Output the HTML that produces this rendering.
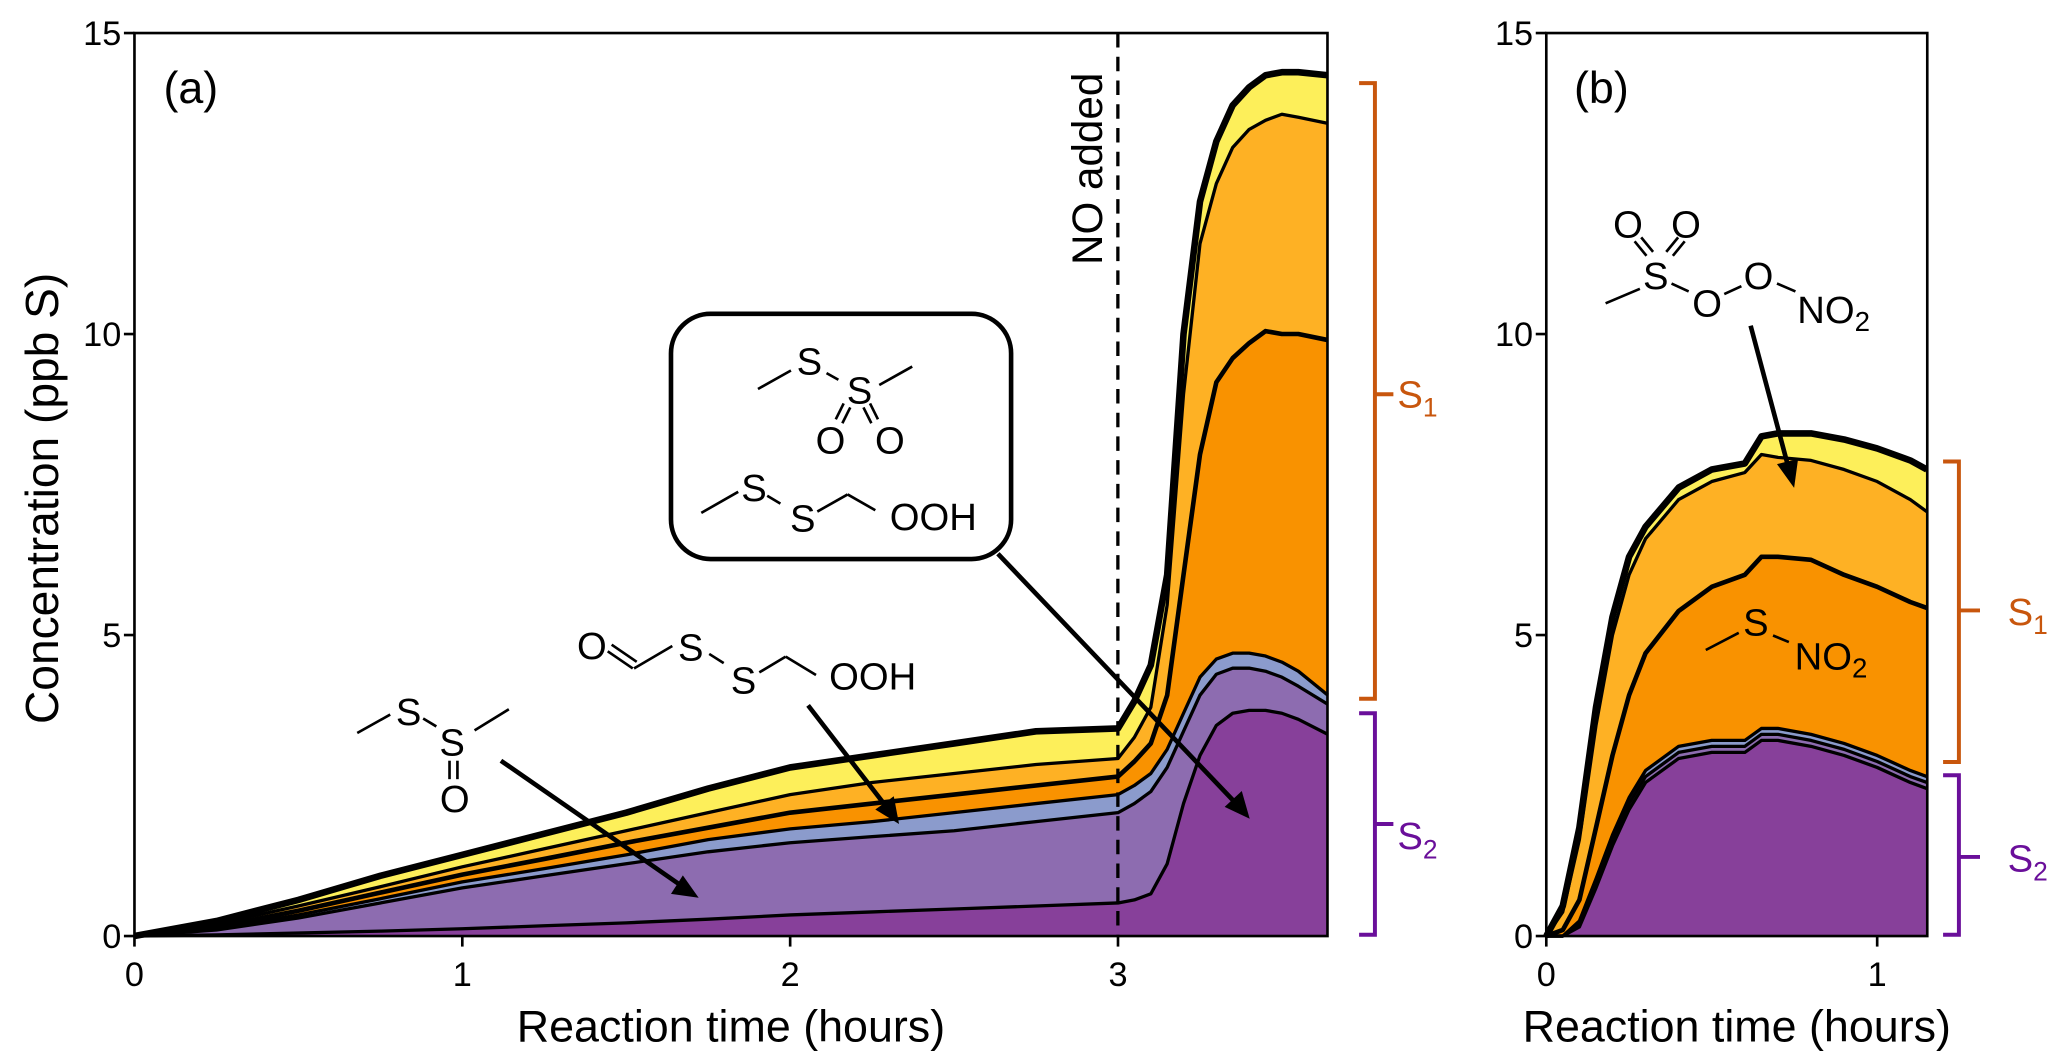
<!DOCTYPE html>
<html><head><meta charset="utf-8"><style>
html,body{margin:0;padding:0;background:#fff;}
svg{display:block;font-family:"Liberation Sans",sans-serif;}
</style></head><body>
<svg id="fig" width="2067" height="1064" viewBox="0 0 1568 807">
<g id="pa"></g>
<g id="pb"></g>
<g id="annot" font-size="29" fill="#000" text-anchor="middle">
  <line x1="848" y1="25" x2="848" y2="710" stroke="#000" stroke-width="2.5" stroke-dasharray="11,7"/>
  <text transform="translate(836,128) rotate(-90)" font-size="32">NO added</text>
  <rect x="509" y="238" width="258" height="186" rx="30" fill="#fff" stroke="#000" stroke-width="3.5"/>
  <g stroke="#000" stroke-width="2">
    <line x1="575" y1="295" x2="600" y2="281"/><line x1="627" y1="283" x2="636" y2="288"/><line x1="667" y1="292" x2="692" y2="278"/>
    <line x1="640" y1="306" x2="634" y2="318"/><line x1="645" y1="309" x2="639" y2="321"/>
    <line x1="660" y1="306" x2="666" y2="318"/><line x1="655" y1="309" x2="661" y2="321"/>
    <text x="614" y="284" stroke="none">S</text><text x="652" y="306" stroke="none">S</text>
    <text x="630" y="344" stroke="none">O</text><text x="675" y="344" stroke="none">O</text>
  </g>
  <g stroke="#000" stroke-width="2">
    <line x1="532" y1="389" x2="560" y2="373"/><line x1="582" y1="376" x2="592" y2="382"/><line x1="620" y1="388" x2="643" y2="375"/><line x1="643" y1="375" x2="664" y2="387"/>
    <text x="572" y="380" stroke="none">S</text><text x="609" y="403" stroke="none">S</text><text x="708" y="402" stroke="none">OOH</text>
  </g>
  <g stroke="#000" stroke-width="2">
    <line x1="461" y1="494" x2="480" y2="507"/><line x1="464" y1="489" x2="483" y2="502"/><line x1="481" y1="507" x2="510" y2="490"/>
    <line x1="538" y1="496" x2="549" y2="503"/><line x1="576" y1="510" x2="596" y2="498"/><line x1="596" y1="498" x2="619" y2="512"/>
    <text x="449" y="500" stroke="none">O</text><text x="524" y="501" stroke="none">S</text><text x="564" y="526" stroke="none">S</text><text x="662" y="523" stroke="none">OOH</text>
  </g>
  <g stroke="#000" stroke-width="2">
    <line x1="271" y1="556" x2="296" y2="542"/><line x1="321" y1="545" x2="331" y2="551"/><line x1="360" y1="554" x2="386" y2="538"/>
    <line x1="341" y1="577" x2="341" y2="591"/><line x1="347" y1="577" x2="347" y2="591"/>
    <text x="310" y="550" stroke="none">S</text><text x="343" y="573" stroke="none">S</text><text x="345" y="616" stroke="none">O</text>
  </g>
  <g stroke="#000" stroke-width="3.5" fill="none">
    <line x1="380" y1="577" x2="520" y2="674"/><line x1="613" y1="535" x2="677" y2="618"/><line x1="757" y1="420" x2="942" y2="614"/>
  </g>
  <g fill="#000">
    <polygon points="530,681 509,678 518,664"/><polygon points="682,625 664,614 678,604"/><polygon points="948,621 929,612 942,600"/>
  </g>
  <g stroke="#000" stroke-width="2">
    <text x="1235" y="180" stroke="none">O</text><text x="1279" y="180" stroke="none">O</text>
    <line x1="1240" y1="183" x2="1249" y2="194"/><line x1="1245" y1="180" x2="1254" y2="191"/>
    <line x1="1273" y1="180" x2="1264" y2="191"/><line x1="1278" y1="183" x2="1269" y2="194"/>
    <text x="1256" y="219" stroke="none">S</text>
    <line x1="1218" y1="230" x2="1244" y2="219"/><line x1="1268" y1="215" x2="1281" y2="221"/>
    <text x="1295" y="240" stroke="none">O</text><line x1="1308" y1="223" x2="1321" y2="217"/>
    <text x="1334" y="219" stroke="none">O</text><line x1="1348" y1="215" x2="1362" y2="221"/>
    <text x="1391" y="245" stroke="none">NO<tspan font-size="21" dy="6">2</tspan></text>
  </g>
  <line x1="1328" y1="247" x2="1356" y2="352" stroke="#000" stroke-width="3.5"/>
  <polygon points="1361,370 1348,352 1364,348" fill="#000"/>
  <g stroke="#000" stroke-width="2">
    <line x1="1294" y1="493" x2="1319" y2="480"/><line x1="1345" y1="482" x2="1357" y2="487"/>
    <text x="1332" y="482" stroke="none">S</text>
    <text x="1389" y="508" stroke="none">NO<tspan font-size="21" dy="6">2</tspan></text>
  </g>
  <g fill="none" stroke-width="3">
    <path d="M1031,63 H1043 V530 H1031 M1043,299 H1057" stroke="#c8560d"/>
    <path d="M1031,541 H1043 V709 H1031 M1043,625 H1057" stroke="#6a0f9a"/>
    <path d="M1474,350 H1486 V578 H1474 M1486,463 H1502" stroke="#c8560d"/>
    <path d="M1474,588 H1486 V709 H1474 M1486,650 H1502" stroke="#6a0f9a"/>
  </g>
  <g text-anchor="start" font-size="29">
  <text x="1060" y="309" fill="#c8560d">S<tspan font-size="20" dy="7">1</tspan></text>
  <text x="1060" y="644" fill="#6a0f9a">S<tspan font-size="20" dy="7">2</tspan></text>
  <text x="1523" y="474" fill="#c8560d">S<tspan font-size="20" dy="7">1</tspan></text>
  <text x="1523" y="661" fill="#6a0f9a">S<tspan font-size="20" dy="7">2</tspan></text>
  </g>
</g>
</svg>
<script>
// Panel (a) data
const timesA = [0,0.25,0.5,0.75,1,1.25,1.5,1.75,2,2.25,2.5,2.75,3.0,3.05,3.1,3.15,3.2,3.25,3.3,3.35,3.4,3.45,3.5,3.55,3.64];
const aTop1 = [0,0.02,0.05,0.08,0.12,0.17,0.22,0.28,0.35,0.4,0.45,0.5,0.55,0.6,0.7,1.2,2.2,3.0,3.5,3.7,3.75,3.75,3.7,3.6,3.35];
const aTop2 = [0,0.1,0.3,0.55,0.8,1.0,1.2,1.4,1.55,1.65,1.75,1.9,2.05,2.2,2.4,2.8,3.4,4.0,4.35,4.45,4.45,4.4,4.3,4.15,3.85];
const aTop3 = [0,0.12,0.35,0.62,0.9,1.12,1.35,1.6,1.78,1.9,2.05,2.2,2.35,2.5,2.7,3.1,3.7,4.3,4.6,4.7,4.7,4.65,4.55,4.4,4.0];
const aTop4 = [0,0.15,0.42,0.72,1.02,1.28,1.55,1.8,2.05,2.2,2.35,2.5,2.65,2.9,3.2,4.0,6.0,8.0,9.2,9.6,9.85,10.05,10.0,10.0,9.9];
const aTop5 = [0,0.2,0.5,0.82,1.15,1.45,1.75,2.05,2.35,2.55,2.7,2.85,2.95,3.3,3.8,5.5,9.0,11.5,12.5,13.1,13.4,13.55,13.65,13.6,13.5];
const aTop6 = [0,0.25,0.6,1.0,1.35,1.7,2.05,2.45,2.8,3.0,3.2,3.4,3.45,3.9,4.5,6.0,10.0,12.2,13.2,13.8,14.1,14.3,14.35,14.35,14.3];
// Panel (b) data
const timesB = [0,0.05,0.1,0.15,0.2,0.25,0.3,0.4,0.5,0.6,0.65,0.7,0.8,0.9,1.0,1.1,1.15];
const bTop1 = [0,0,0.15,0.8,1.5,2.1,2.55,2.95,3.05,3.05,3.25,3.25,3.15,3.0,2.8,2.55,2.45];
const bTop2 = [0,0,0.2,0.88,1.6,2.2,2.65,3.05,3.15,3.15,3.35,3.35,3.25,3.1,2.9,2.65,2.55];
const bTop3 = [0,0,0.25,0.95,1.68,2.3,2.75,3.15,3.25,3.25,3.45,3.45,3.35,3.2,3.0,2.75,2.65];
const bTop4 = [0,0.1,0.6,1.8,3.0,4.0,4.7,5.4,5.8,6.0,6.3,6.3,6.25,6.0,5.8,5.55,5.45];
const bTop5 = [0,0.4,1.6,3.5,5.0,6.0,6.6,7.25,7.55,7.7,8.0,7.95,7.9,7.75,7.55,7.25,7.05];
const bTop6 = [0,0.5,1.8,3.8,5.3,6.3,6.8,7.45,7.75,7.85,8.3,8.35,8.35,8.25,8.1,7.9,7.75];
const colors = ['#87409a','#8d6cb0','#8b9bcc','#f99200','#feb124','#fdef5a'];
const yTicks = [0,5,10,15];
const xTicksA = [0,1,2,3];
const xTicksB = [0,1];

const NS='http://www.w3.org/2000/svg';
function mk(tag,attrs,parent){const e=document.createElementNS(NS,tag);for(const k in attrs)e.setAttribute(k,attrs[k]);parent.appendChild(e);return e;}

function panel(g,times,tops,x0,xPerH,xEnd,xTicks,label,labelX,drawYTitle,names){
  const yS=v=>710-v*(685/15);
  const xS=t=>x0+t*xPerH;
  for(let i=tops.length-1;i>=0;i--){
    const top=tops[i];
    let d='M'+times.map((t,j)=>xS(t).toFixed(1)+','+yS(top[j]).toFixed(1)).join(' L');
    d+=' L'+xS(times[times.length-1]).toFixed(1)+','+yS(0)+' L'+xS(0)+','+yS(0)+' Z';
    const p=mk('path',{d:d,fill:colors[i],stroke:'none'},g);
    
    
  }
  for(let i=0;i<tops.length;i++){
    const top=tops[i];
    const d='M'+times.map((t,j)=>xS(t).toFixed(1)+','+yS(top[j]).toFixed(1)).join(' L');
    const l=mk('path',{d:d,fill:'none',stroke:'#000','stroke-width':(i===5?5:(i===3?3.5:2.5)),'stroke-linejoin':'round'},g);
    
    
  }
  const frame=mk('rect',{x:x0,y:yS(15),width:xEnd-x0,height:yS(0)-yS(15),fill:'none',stroke:'#000','stroke-width':2},g);
  
  
  yTicks.forEach(v=>{
    mk('line',{x1:x0-8,x2:x0,y1:yS(v),y2:yS(v),stroke:'#000','stroke-width':2},g);
    const t=mk('text',{x:x0-10,y:yS(v)+9,'text-anchor':'end','font-size':26},g);
    t.textContent=v;
    
    
  });
  xTicks.forEach(v=>{
    mk('line',{x1:xS(v),x2:xS(v),y1:710,y2:718,stroke:'#000','stroke-width':2},g);
    const t=mk('text',{x:xS(v),y:748,'text-anchor':'middle','font-size':26},g);
    t.textContent=v;
    
    
  });
  const xt=mk('text',{x:(x0+xEnd)/2,y:790,'text-anchor':'middle','font-size':34},g);
  xt.textContent='Reaction time (hours)';
  
  
  const pl=mk('text',{x:labelX,y:78,'font-size':34},g);
  pl.textContent=label;
  
  
  if(drawYTitle){
    const yt=mk('text',{transform:'translate(44,378) rotate(-90)','text-anchor':'middle','font-size':35},g);
    yt.textContent='Concentration (ppb S)';
    
    
  }
}
panel(document.getElementById('pa'),timesA,[aTop1,aTop2,aTop3,aTop4,aTop5,aTop6],102,248.7,1007,xTicksA,'(a)',124,true,'a');
panel(document.getElementById('pb'),timesB,[bTop1,bTop2,bTop3,bTop4,bTop5,bTop6],1173,251,1462,xTicksB,'(b)',1194,false,'b');
</script>
</body></html>
